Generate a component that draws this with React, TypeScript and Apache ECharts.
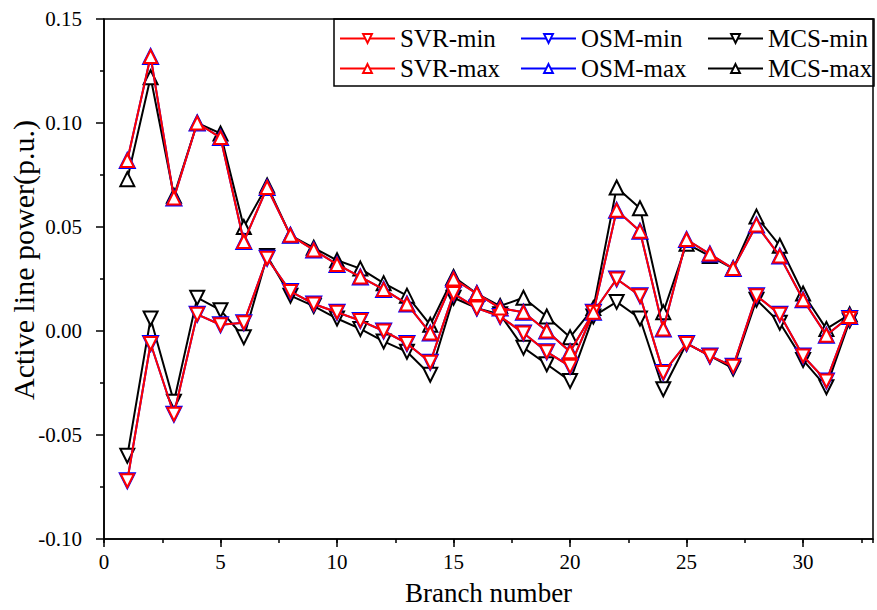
import React, { useEffect, useRef } from "react";
import * as echarts from "echarts";

const branches = Array.from({ length: 32 }, (_, i) => i + 1);

const svrMin = [-0.072, -0.006, -0.040, 0.008, 0.003, 0.004, 0.035, 0.019, 0.013, 0.009, 0.005, 0.000, -0.006, -0.015, 0.018, 0.011, 0.007, -0.001, -0.010, -0.017, 0.009, 0.025, 0.017, -0.020, -0.006, -0.012, -0.017, 0.017, 0.008, -0.012, -0.024, 0.006];
const svrMax = [0.082, 0.132, 0.064, 0.100, 0.093, 0.043, 0.069, 0.046, 0.039, 0.032, 0.026, 0.020, 0.013, -0.001, 0.025, 0.018, 0.011, 0.009, 0.000, -0.010, 0.009, 0.058, 0.048, 0.001, 0.044, 0.037, 0.030, 0.051, 0.036, 0.015, -0.002, 0.007];
const osmMin = [-0.072, -0.006, -0.040, 0.008, 0.003, 0.004, 0.035, 0.019, 0.013, 0.009, 0.005, 0.000, -0.006, -0.015, 0.018, 0.011, 0.007, -0.001, -0.010, -0.017, 0.009, 0.025, 0.017, -0.020, -0.006, -0.012, -0.017, 0.017, 0.008, -0.012, -0.024, 0.006];
const osmMax = [0.082, 0.132, 0.064, 0.100, 0.093, 0.043, 0.069, 0.046, 0.039, 0.032, 0.026, 0.020, 0.013, -0.001, 0.025, 0.018, 0.011, 0.009, 0.000, -0.010, 0.009, 0.058, 0.048, 0.001, 0.044, 0.037, 0.030, 0.051, 0.036, 0.015, -0.002, 0.007];
const mcsMin = [-0.060, 0.006, -0.034, 0.016, 0.010, -0.003, 0.036, 0.017, 0.012, 0.006, 0.001, -0.005, -0.010, -0.021, 0.016, 0.011, 0.008, -0.008, -0.016, -0.024, 0.007, 0.014, 0.006, -0.028, -0.006, -0.012, -0.018, 0.015, 0.004, -0.014, -0.027, 0.005];
const mcsMax = [0.073, 0.122, 0.065, 0.100, 0.095, 0.050, 0.070, 0.046, 0.040, 0.034, 0.030, 0.023, 0.017, 0.003, 0.026, 0.018, 0.012, 0.016, 0.007, -0.003, 0.011, 0.069, 0.059, 0.009, 0.042, 0.036, 0.030, 0.055, 0.041, 0.018, 0.001, 0.008];

const yTitle = "Active line power(p.u.)";
const xTitle = "Branch number";

const FONT = "'Liberation Serif', 'Times New Roman', serif";

function mkSeries(name: string, values: number[], color: string, down: boolean, size: number, z: number) {
  return {
    name,
    type: "line",
    data: branches.map((b, i) => [b, values[i]]),
    symbol: "triangle",
    symbolRotate: down ? 180 : 0,
    symbolSize: size,
    lineStyle: { color, width: 2 },
    itemStyle: { color: "#fff", borderColor: color, borderWidth: 2 },
    z,
  };
}

export default function App() {
  const ref = useRef<HTMLDivElement>(null);
  useEffect(() => {
    if (!ref.current) return;
    const chart = echarts.init(ref.current, null, { renderer: "svg" });
    const legendBase = {
      orient: "vertical",
      top: 26,
      padding: 0,
      itemGap: 5,
      itemWidth: 55,
      itemHeight: 11,
      textStyle: { fontFamily: FONT, fontSize: 25, color: "#000" },
    };
    chart.setOption({
      animation: false,
      backgroundColor: "#fff",
      grid: {
        left: 104,
        right: 4,
        top: 19,
        bottom: 71,
        show: true,
        borderColor: "#000",
        borderWidth: 1.5,
        backgroundColor: "transparent",
        containLabel: false,
        outerBoundsMode: "none",
      },
      legend: [
        { ...legendBase, left: 339, data: ["SVR-min", "SVR-max"] },
        { ...legendBase, left: 520, data: ["OSM-min", "OSM-max"] },
        { ...legendBase, left: 707, data: ["MCS-min", "MCS-max"] },
      ],
      graphic: [
        {
          type: "rect",
          shape: { x: 334, y: 19, width: 540, height: 67 },
          style: { fill: "transparent", stroke: "#000", lineWidth: 1.5 },
          z: 10,
        },
        {
          type: "text",
          x: 23,
          y: 260,
          rotation: Math.PI / 2,
          style: {
            text: yTitle,
            fontFamily: FONT,
            fontSize: 30,
            fill: "#000",
            align: "center",
            verticalAlign: "middle",
          },
        },
      ],
      xAxis: [
        {
          type: "value",
          min: 0,
          max: 33,
          interval: 5,
          name: xTitle,
          nameLocation: "middle",
          nameGap: 40,
          nameTextStyle: { fontFamily: FONT, fontSize: 27, color: "#000" },
          axisLine: { show: true, onZero: false, lineStyle: { color: "#000", width: 1.5 } },
          axisTick: { show: true, inside: false, length: 8, lineStyle: { color: "#000", width: 1.5 } },
          axisLabel: {
            fontFamily: FONT,
            fontSize: 21,
            color: "#000",
            margin: 12,
            showMaxLabel: false,
          },
          splitLine: { show: false },
        },
        {
          type: "value",
          min: 0,
          max: 33,
          interval: 2.5,
          position: "bottom",
          axisLine: { show: false, onZero: false },
          axisTick: { show: true, inside: false, length: 4, lineStyle: { color: "#000", width: 1.5 } },
          axisLabel: { show: false },
          splitLine: { show: false },
        },
      ],
      yAxis: {
        type: "value",
        min: -0.1,
        max: 0.15,
        interval: 0.05,
        axisLine: { show: true, onZero: false, lineStyle: { color: "#000", width: 1.5 } },
        axisTick: { show: true, inside: false, length: 8, lineStyle: { color: "#000", width: 1.5 } },
        minorTick: { show: true, splitNumber: 2, length: 4, lineStyle: { color: "#000", width: 1.5 } },
        axisLabel: {
          fontFamily: FONT,
          fontSize: 21,
          color: "#000",
          margin: 22,
          formatter: (v: number) => v.toFixed(2),
        },
        splitLine: { show: false },
      },
      series: [
        mkSeries("MCS-min", mcsMin, "#000000", true, 14, 2),
        mkSeries("MCS-max", mcsMax, "#000000", false, 14, 2),
        mkSeries("OSM-min", osmMin, "#0000ff", true, 15, 3),
        mkSeries("OSM-max", osmMax, "#0000ff", false, 15, 3),
        mkSeries("SVR-min", svrMin, "#ff0000", true, 13, 4),
        mkSeries("SVR-max", svrMax, "#ff0000", false, 13, 4),
      ],
    });
    return () => chart.dispose();
  }, []);
  return (
    <div
      ref={ref}
      style={{ position: "fixed", left: 0, top: 0, width: 877, height: 610, background: "#fff" }}
    />
  );
}
